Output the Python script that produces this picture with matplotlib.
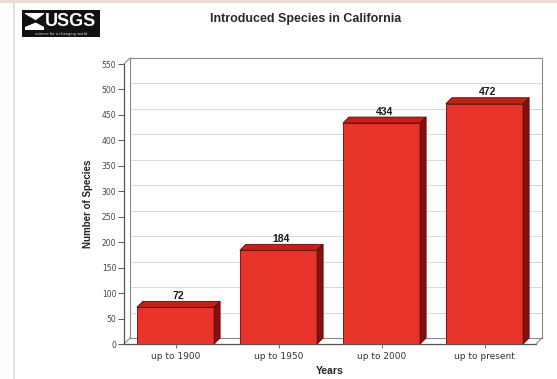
import matplotlib
matplotlib.use("Agg")
import matplotlib.pyplot as plt
from matplotlib.patches import Polygon, Rectangle
from matplotlib.transforms import offset_copy

categories = ["up to 1900", "up to 1950", "up to 2000", "up to present"]
species = [72, 184, 434, 472]
yticks = list(range(0, 551, 50))

W, H = 557, 379
fig = plt.figure(figsize=(W / 100, H / 100), dpi=100)
fig.patch.set_facecolor("white")

def fx(x):
    return x / W

def fy(y):
    return 1 - y / H

# page frame
fig.patches.append(Rectangle((0, fy(3)), 1, 3 / H, transform=fig.transFigure,
                             facecolor="#ecdcd8", edgecolor="none"))
fig.patches.append(Rectangle((fx(13), 0), 2 / W, 1, transform=fig.transFigure,
                             facecolor="#ecdcd8", edgecolor="none"))

# USGS logo
fig.patches.append(Rectangle((fx(22), fy(37)), 78 / W, 27 / H, transform=fig.transFigure,
                             facecolor="#111111", edgecolor="none"))
fig.patches.append(Rectangle((fx(25), fy(30)), 19 / W, 17 / H, transform=fig.transFigure,
                             facecolor="white", edgecolor="none"))
fig.patches.append(Polygon([(fx(25), fy(14)), (fx(38), fy(21.5)), (fx(25), fy(27))],
                           closed=True, transform=fig.transFigure,
                           facecolor="#111111", edgecolor="none"))
fig.patches.append(Polygon([(fx(44), fy(14)), (fx(34), fy(21.5)), (fx(44), fy(27))],
                           closed=True, transform=fig.transFigure,
                           facecolor="#111111", edgecolor="none"))
fig.text(fx(71), fy(21.5), "USGS", color="white", fontsize=13, fontweight="bold",
         family="Liberation Sans", ha="center", va="center", stretch="condensed")
fig.text(fx(61), fy(34), "science for a changing world", color="#dddddd", fontsize=2.6,
         family="DejaVu Sans", ha="center", va="center")

# title
fig.text(fx(306), fy(19), "Introduced Species in California", fontsize=9, fontweight="bold",
         family="Liberation Sans", color="#2a2a2a", ha="center", va="center")

# axes = front plane of the 3D box
left, right, top, bottom = 124, 536, 64, 344
ax = fig.add_axes([fx(left), fy(bottom), (right - left) / W, (bottom - top) / H])
ax.set_xlim(-0.5, len(categories) - 0.5)
ax.set_ylim(0, 550)
ax.patch.set_alpha(0)
for s in ax.spines.values():
    s.set_visible(False)

depth = 6  # pixels
dxd = depth / ((right - left) / len(categories))
dyd = depth / ((bottom - top) / 550)
back = offset_copy(ax.transData, fig=fig, x=depth, y=depth, units="dots")

x0, x1 = -0.5, len(categories) - 0.5
frame_c = "#8a8a8a"
# back wall gridlines
for v in yticks[1:-1]:
    ax.plot([x0, x1], [v, v], color="#d8d8d8", lw=0.7, transform=back, clip_on=False, zorder=1)
# back wall outline
ax.plot([x0, x0, x1, x1], [0, 550, 550, 0], color=frame_c, lw=0.8, transform=back,
        clip_on=False, zorder=1)
ax.plot([x0, x1], [0, 0], color=frame_c, lw=0.8, transform=back, clip_on=False, zorder=1)
# floor front edge and side edges
ax.plot([x0, x1], [0, 0], color="#555555", lw=0.9, clip_on=False, zorder=2)
ax.plot([x0, x0 + dxd], [0, dyd], color=frame_c, lw=0.8, clip_on=False, zorder=2)
ax.plot([x1, x1 + dxd], [0, dyd], color=frame_c, lw=0.8, clip_on=False, zorder=2)
# front left vertical
ax.plot([x0, x0], [0, 550], color="#555555", lw=0.9, clip_on=False, zorder=2)
ax.plot([x0, x0 + dxd], [550, 550 + dyd], color=frame_c, lw=0.8, clip_on=False, zorder=2)

# bars
bw = 0.75
front_c, top_c, side_c, edge_c = "#e8332a", "#c42018", "#861010", "#5e0a08"
bars = ax.bar(range(len(categories)), species, width=bw, color=front_c,
              edgecolor=edge_c, linewidth=0.6, zorder=4)
for i, v in enumerate(species):
    a, b = i - bw / 2, i + bw / 2
    ax.add_patch(Polygon([(a, v), (b, v), (b + dxd, v + dyd), (a + dxd, v + dyd)],
                         closed=True, facecolor=top_c, edgecolor=edge_c, lw=0.6,
                         zorder=4, clip_on=False))
    ax.add_patch(Polygon([(b, 0), (b, v), (b + dxd, v + dyd), (b + dxd, dyd)],
                         closed=True, facecolor=side_c, edgecolor=edge_c, lw=0.6,
                         zorder=4, clip_on=False))
    ax.text(i + dxd / 2, v + dyd + 1, str(v), ha="center", va="bottom", fontsize=7.5,
            fontweight="bold", family="Liberation Sans", color="#1a1a1a", zorder=5)

ax.set_yticks(yticks)
ax.set_yticklabels([str(t) for t in yticks], fontsize=5.5, color="#444444")
ax.set_xticks(range(len(categories)))
ax.set_xticklabels(categories, fontsize=6.5, color="#333333")
ax.tick_params(axis="y", length=4, width=0.7, color="#555555", pad=1.5)
ax.tick_params(axis="x", length=3, width=0.6, color="#555555", pad=3)

ax.set_ylabel("Number of Species", fontsize=7, fontweight="bold", family="Liberation Sans",
              color="#222222", labelpad=6)
ax.set_xlabel("Years", fontsize=7.5, fontweight="bold", family="Liberation Sans",
              color="#222222", labelpad=3)

fig.savefig("out.png", dpi=100)
